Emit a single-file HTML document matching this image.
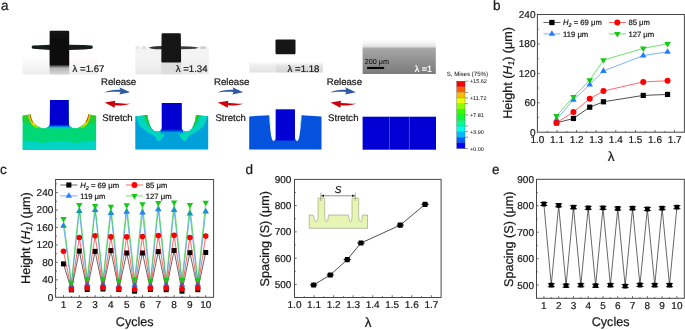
<!DOCTYPE html>
<html><head><meta charset="utf-8"><style>
html,body{margin:0;padding:0;background:#fff;width:685px;height:330px;overflow:hidden}
svg{display:block;font-family:"Liberation Sans", sans-serif;will-change:transform}
text{stroke:#1a1a1a;stroke-width:0.22px;text-rendering:geometricPrecision}
</style></head><body>
<svg width="685" height="330" viewBox="0 0 685 330" font-family='"Liberation Sans", sans-serif' fill="#1a1a1a">
<defs>
<linearGradient id="ph1" x1="0" y1="0" x2="0" y2="1"><stop offset="0" stop-color="#fff"/><stop offset="0.6" stop-color="#fbfbfb"/><stop offset="1" stop-color="#e6e6e6"/></linearGradient>
<linearGradient id="ph4" x1="0" y1="0" x2="0" y2="1"><stop offset="0" stop-color="#fff"/><stop offset="0.12" stop-color="#f5f5f5"/><stop offset="0.23" stop-color="#dedede"/><stop offset="0.255" stop-color="#b0b0b0"/><stop offset="0.3" stop-color="#a4a4a4"/><stop offset="1" stop-color="#7b7b7b"/></linearGradient>
<linearGradient id="pil" x1="0" y1="0" x2="0" y2="1"><stop offset="0" stop-color="#111"/><stop offset="0.75" stop-color="#0a0a0a"/><stop offset="0.85" stop-color="#888"/><stop offset="1" stop-color="#ddd"/></linearGradient>
</defs>

<text x="0.9" y="9.8" font-size="13.5">a</text>
<text x="493" y="9.8" font-size="13.5">b</text>
<text x="0" y="174" font-size="13.5">c</text>
<text x="245.4" y="173.6" font-size="13.5">d</text>
<text x="491.9" y="173.5" font-size="13.5">e</text>
<defs>
<filter id="bl" x="-20%" y="-20%" width="140%" height="140%"><feGaussianBlur stdDeviation="0.45"/></filter>
<filter id="bl2" x="-20%" y="-20%" width="140%" height="140%"><feGaussianBlur stdDeviation="0.8"/></filter>
<linearGradient id="bg1" x1="0" y1="56" x2="0" y2="74.5" gradientUnits="userSpaceOnUse"><stop offset="0" stop-color="#fff"/><stop offset="0.5" stop-color="#f7f7f7"/><stop offset="1" stop-color="#ececec"/></linearGradient>
<linearGradient id="pil1" x1="0" y1="30.8" x2="0" y2="74.5" gradientUnits="userSpaceOnUse"><stop offset="0" stop-color="#121212"/><stop offset="0.77" stop-color="#0e0e0e"/><stop offset="0.85" stop-color="#b4b4b4"/><stop offset="1" stop-color="#d8d8d8"/></linearGradient>
<linearGradient id="bg2" x1="0" y1="48" x2="0" y2="74.3" gradientUnits="userSpaceOnUse"><stop offset="0" stop-color="#f2f2f2"/><stop offset="0.4" stop-color="#f4f4f4"/><stop offset="1" stop-color="#e8e8e8"/></linearGradient>
<linearGradient id="bg3" x1="0" y1="61.5" x2="0" y2="72.5" gradientUnits="userSpaceOnUse"><stop offset="0" stop-color="#fff"/><stop offset="0.35" stop-color="#eeeeee"/><stop offset="1" stop-color="#e2e2e2"/></linearGradient>
<linearGradient id="bg3b" x1="0" y1="61.5" x2="0" y2="72.5" gradientUnits="userSpaceOnUse"><stop offset="0" stop-color="#fff" stop-opacity="0"/><stop offset="0.4" stop-color="#d8d8d8" stop-opacity="0.5"/><stop offset="1" stop-color="#d0d0d0" stop-opacity="0.6"/></linearGradient>
</defs>
<rect x="22.5" y="56" width="75.5" height="18.5" fill="url(#bg1)"/>
<g filter="url(#bl)">
<path d="M33,45.6 L40,45.2 L50,44.7 L69,44.7 L84,45.1 L91.5,45.6 C93.2,45.8 93.2,48.6 91.5,48.8 L84,49.4 L69,49.9 L50,49.9 L40,49.3 L33,48.8 C31.3,48.6 31.3,45.8 33,45.6Z" fill="#141c19"/>
<rect x="49.6" y="30.8" width="19.6" height="43.7" rx="1.2" fill="url(#pil1)"/>
</g>
<text x="72.6" y="72.2" font-size="9.6">λ =1.67</text>
<rect x="135.3" y="48.5" width="73.5" height="25.8" fill="url(#bg2)"/>
<rect x="161" y="62" width="20.5" height="12.3" fill="#dedede"/>
<g filter="url(#bl)">
</g><g filter="url(#bl2)">
<rect x="136" y="47.2" width="3" height="1" fill="#999"/><rect x="142" y="47.2" width="4" height="1.1" fill="#888"/>
<rect x="200" y="47.1" width="6" height="1.2" fill="#777"/>
</g><g filter="url(#bl)">
<path d="M148.5,47.8 Q151,46.4 156,46.2 L162,46.1 L162,49.3 L156,49.3 Q151,49.1 148.5,47.8Z" fill="#333"/>
<path d="M181,46.2 L190,46.4 Q196,46.8 199,47.7 Q196,48.8 190,49.1 L181,49.2Z" fill="#3c3c3c"/>
<path d="M162.6,33.3 L179.7,33.3 Q180.8,33.3 180.8,34.5 L181.1,61.3 Q181.1,62.6 179.8,62.6 L162.5,62.6 Q161.3,62.6 161.3,61.3 L161.6,34.5 Q161.6,33.3 162.6,33.3Z" fill="#121212"/>
</g>
<text x="175.8" y="71.8" font-size="9.6">λ =1.34</text>
<rect x="249.3" y="61.5" width="73.5" height="11" fill="url(#bg3)"/>
<rect x="275.8" y="61.5" width="47" height="11" fill="url(#bg3b)"/>
<g filter="url(#bl)"><rect x="275.5" y="39.4" width="20" height="14.8" rx="1.2" fill="#181818"/></g>
<text x="287.6" y="71.8" font-size="9.6">λ =1.18</text>
<rect x="362.6" y="39" width="73.2" height="35" fill="url(#ph4)"/>
<text x="364.8" y="64" font-size="7.2" fill="#111" style="stroke-width:0.08px;stroke:#111">200 μm</text>
<rect x="367.1" y="66.9" width="17" height="2.1" fill="#000"/>
<text x="414.8" y="71.7" font-size="9" fill="#fff" style="stroke:#fff">λ =1</text>
<text x="101" y="85.1" font-size="9.6">Release</text>
<text x="102.3" y="120.6" font-size="9.6">Stretch</text>
<g transform="translate(0.00,0)"><path d="M104.5,92.4 C109,89.9 115,89.3 120.4,89.8 L119.4,87.2 L130.1,92.2 L119.3,94.4 L120.5,91.9 C115,91.5 109,91.7 104.5,92.4 Z" fill="#2d5aa6"/><path d="M104.7,102.5 L115.4,100.7 L114.8,103.1 C120,103.5 126,103.9 130.4,103.4 C126,105.3 120,105.9 114.9,105.3 L114.6,107.7 Z" fill="#c8000c"/></g>
<text x="214.1" y="85.1" font-size="9.6">Release</text>
<text x="215.4" y="120.6" font-size="9.6">Stretch</text>
<g transform="translate(113.10,0)"><path d="M104.5,92.4 C109,89.9 115,89.3 120.4,89.8 L119.4,87.2 L130.1,92.2 L119.3,94.4 L120.5,91.9 C115,91.5 109,91.7 104.5,92.4 Z" fill="#2d5aa6"/><path d="M104.7,102.5 L115.4,100.7 L114.8,103.1 C120,103.5 126,103.9 130.4,103.4 C126,105.3 120,105.9 114.9,105.3 L114.6,107.7 Z" fill="#c8000c"/></g>
<text x="326.8" y="85.1" font-size="9.6">Release</text>
<text x="328.1" y="120.6" font-size="9.6">Stretch</text>
<g transform="translate(225.80,0)"><path d="M104.5,92.4 C109,89.9 115,89.3 120.4,89.8 L119.4,87.2 L130.1,92.2 L119.3,94.4 L120.5,91.9 C115,91.5 109,91.7 104.5,92.4 Z" fill="#2d5aa6"/><path d="M104.7,102.5 L115.4,100.7 L114.8,103.1 C120,103.5 126,103.9 130.4,103.4 C126,105.3 120,105.9 114.9,105.3 L114.6,107.7 Z" fill="#c8000c"/></g>
<text x="446.7" y="76.4" font-size="6.1" style="stroke-width:0.05px" fill="#222">S, Mises (75%)</text>
<rect x="456.7" y="81.20" width="8.3" height="5.66" fill="#ff0000"/>
<rect x="456.7" y="86.81" width="8.3" height="5.66" fill="#ff5d00"/>
<rect x="456.7" y="92.42" width="8.3" height="5.66" fill="#ffb900"/>
<rect x="456.7" y="98.03" width="8.3" height="5.66" fill="#e8ff00"/>
<rect x="456.7" y="103.63" width="8.3" height="5.66" fill="#8bff00"/>
<rect x="456.7" y="109.24" width="8.3" height="5.66" fill="#2eff00"/>
<rect x="456.7" y="114.85" width="8.3" height="5.66" fill="#00ff2e"/>
<rect x="456.7" y="120.46" width="8.3" height="5.66" fill="#00ff8b"/>
<rect x="456.7" y="126.07" width="8.3" height="5.66" fill="#00ffe8"/>
<rect x="456.7" y="131.68" width="8.3" height="5.66" fill="#00b9ff"/>
<rect x="456.7" y="137.28" width="8.3" height="5.66" fill="#005dff"/>
<rect x="456.7" y="142.89" width="8.3" height="5.66" fill="#0000ff"/>
<line x1="456.7" y1="86.81" x2="465.0" y2="86.81" stroke="#333" stroke-width="0.3" opacity="0.6"/>
<line x1="456.7" y1="92.42" x2="465.0" y2="92.42" stroke="#333" stroke-width="0.3" opacity="0.6"/>
<line x1="456.7" y1="98.03" x2="465.0" y2="98.03" stroke="#333" stroke-width="0.3" opacity="0.6"/>
<line x1="456.7" y1="103.63" x2="465.0" y2="103.63" stroke="#333" stroke-width="0.3" opacity="0.6"/>
<line x1="456.7" y1="109.24" x2="465.0" y2="109.24" stroke="#333" stroke-width="0.3" opacity="0.6"/>
<line x1="456.7" y1="114.85" x2="465.0" y2="114.85" stroke="#333" stroke-width="0.3" opacity="0.6"/>
<line x1="456.7" y1="120.46" x2="465.0" y2="120.46" stroke="#333" stroke-width="0.3" opacity="0.6"/>
<line x1="456.7" y1="126.07" x2="465.0" y2="126.07" stroke="#333" stroke-width="0.3" opacity="0.6"/>
<line x1="456.7" y1="131.68" x2="465.0" y2="131.68" stroke="#333" stroke-width="0.3" opacity="0.6"/>
<line x1="456.7" y1="137.28" x2="465.0" y2="137.28" stroke="#333" stroke-width="0.3" opacity="0.6"/>
<line x1="456.7" y1="142.89" x2="465.0" y2="142.89" stroke="#333" stroke-width="0.3" opacity="0.6"/>
<rect x="456.7" y="81.2" width="8.3" height="67.30" fill="none" stroke="#444" stroke-width="0.3"/>
<text x="469.9" y="83.20" font-size="5.5" style="stroke-width:0.05px" fill="#222">+15.62</text>
<text x="469.9" y="100.03" font-size="5.5" style="stroke-width:0.05px" fill="#222">+11.72</text>
<text x="469.9" y="116.85" font-size="5.5" style="stroke-width:0.05px" fill="#222">+7.81</text>
<text x="469.9" y="133.68" font-size="5.5" style="stroke-width:0.05px" fill="#222">+3.90</text>
<text x="469.9" y="150.50" font-size="5.5" style="stroke-width:0.05px" fill="#222">+0.00</text>
<line x1="465" y1="81.20" x2="468" y2="81.20" stroke="#333" stroke-width="0.5"/>
<line x1="465" y1="86.81" x2="467" y2="86.81" stroke="#bbb" stroke-width="0.5"/>
<line x1="465" y1="92.42" x2="468" y2="92.42" stroke="#333" stroke-width="0.5"/>
<line x1="465" y1="98.03" x2="468" y2="98.03" stroke="#333" stroke-width="0.5"/>
<line x1="465" y1="103.63" x2="468" y2="103.63" stroke="#333" stroke-width="0.5"/>
<line x1="465" y1="109.24" x2="467" y2="109.24" stroke="#bbb" stroke-width="0.5"/>
<line x1="465" y1="114.85" x2="468" y2="114.85" stroke="#333" stroke-width="0.5"/>
<line x1="465" y1="120.46" x2="467" y2="120.46" stroke="#bbb" stroke-width="0.5"/>
<line x1="465" y1="126.07" x2="468" y2="126.07" stroke="#333" stroke-width="0.5"/>
<line x1="465" y1="131.68" x2="468" y2="131.68" stroke="#333" stroke-width="0.5"/>
<line x1="465" y1="137.28" x2="468" y2="137.28" stroke="#333" stroke-width="0.5"/>
<line x1="465" y1="142.89" x2="467" y2="142.89" stroke="#bbb" stroke-width="0.5"/>
<line x1="465" y1="148.50" x2="468" y2="148.50" stroke="#333" stroke-width="0.5"/>
<defs><clipPath id="cl1"><path d="M22.6,115.7 L30.3,114.5 C31,119.5 33.5,124 38,126.6 C40.5,128 42.5,128.4 44.2,128.3 C46.5,128.2 49,127 49.8,124.5 L50,100 L68.70,100.00 L68.90,124.50 C69.70,127.00 72.20,128.20 74.50,128.30 C76.20,128.40 78.20,128.00 80.70,126.60 C85.20,124.00 87.70,119.50 88.40,114.50 L96.10,115.70 L96.10,149.80 L22.60,149.80 Z"/></clipPath>
<linearGradient id="pb1" x1="0" y1="124.3" x2="0" y2="129" gradientUnits="userSpaceOnUse"><stop offset="0" stop-color="#0000d0"/><stop offset="0.3" stop-color="#0048e0"/><stop offset="0.55" stop-color="#00a0e0"/><stop offset="0.8" stop-color="#00d0b4"/><stop offset="1" stop-color="#00d777"/></linearGradient>
<linearGradient id="gw1" x1="0" y1="114" x2="0" y2="127" gradientUnits="userSpaceOnUse"><stop offset="0" stop-color="#30cc1c"/><stop offset="0.6" stop-color="#18d040"/><stop offset="1" stop-color="#00d777"/></linearGradient>
</defs>
<g clip-path="url(#cl1)">
<rect x="20" y="98" width="80" height="55" fill="#00d777"/>
<path d="M22.6,140.6 C30,140.8 37,142.3 44,143 C49,141.6 54,141.1 59.35,141.1 C64.7,141.1 69.7,141.6 74.7,143 C81.7,142.3 88.7,140.8 96.1,140.6 L96.1,150 L22.6,150 Z" fill="#00d4c4"/>
<path d="M20,114 L31,114 C32,119 34,123 38,126.6 C31,125.5 25,123 20,121 Z" fill="url(#gw1)"/>
<path d="M98.7,114 L87.7,114 C86.7,119 84.7,123 80.7,126.6 C87.7,125.5 93.7,123 98.7,121 Z" fill="url(#gw1)"/>
<path d="M42.5,129 L45.8,129 L44.2,131.3Z M72.9,129 L76.2,129 L74.5,131.3Z" fill="#10c850"/>
<g fill="none" stroke-linecap="round">
<path d="M30.3,114.5 C31,119.5 32.8,123 36.5,125.8" stroke="#86e000" stroke-width="5.0"/>
<path d="M 88.40 114.50 C 87.70 119.50 85.90 123.00 82.20 125.80" stroke="#86e000" stroke-width="5.0"/>
<path d="M30.3,114.5 C31,119 32,121.8 34,124" stroke="#d8ee00" stroke-width="3.0"/>
<path d="M 88.40 114.50 C 87.70 119.00 86.70 121.80 84.70 124.00" stroke="#d8ee00" stroke-width="3.0"/>
<path d="M30.3,114.5 C30.8,117.5 31.6,120 33,122.2" stroke="#ff9000" stroke-width="2.0"/>
<path d="M 88.40 114.50 C 87.90 117.50 87.10 120.00 85.70 122.20" stroke="#ff9000" stroke-width="2.0"/>
<path d="M30.3,114.5 C30.7,117 31.2,119 32.2,121" stroke="#d81808" stroke-width="1.1"/>
<path d="M 88.40 114.50 C 88.00 117.00 87.50 119.00 86.50 121.00" stroke="#d81808" stroke-width="1.1"/>
</g>
<rect x="45" y="100" width="28.7" height="30" fill="url(#pb1)"/>
</g>
<defs><clipPath id="cl2"><path d="M135.3,116.2 L147.6,114.9 C148.1,120 149.3,124.5 151.3,128 C153,130.5 155.2,131.4 157.4,131.4 C159.4,131.4 161.3,130.5 161.8,128.5 L161.8,102.9 L181.70,102.90 L181.70,128.50 C182.20,130.50 184.10,131.40 186.10,131.40 C188.30,131.40 190.50,130.50 192.20,128.00 C194.20,124.50 195.40,120.00 195.90,114.90 L208.20,116.20 L208.20,149.60 L135.30,149.60 Z"/></clipPath>
<linearGradient id="pb2" x1="0" y1="129" x2="0" y2="132.5" gradientUnits="userSpaceOnUse"><stop offset="0" stop-color="#0000d0"/><stop offset="0.45" stop-color="#0040d8"/><stop offset="1" stop-color="#00a0da"/></linearGradient>
</defs>
<g clip-path="url(#cl2)">
<rect x="133" y="100" width="78" height="52" fill="#00a0da"/>
<path d="M136.3,116.2 L147.6,114.9 C148.1,120 149.3,124.5 151.3,128 C153,130.5 155.2,131.4 157.4,131.4 L161.5,130 L164.6,132.5 L163.6,136.5 L159.8,141.2 L157,140.6 L154.6,136 C149.5,133.5 143.5,130 139.6,125.5 C137.8,122.5 136.7,119.5 136.3,116.2 Z" fill="#00d6be"/>
<path d="M 207.20 116.20 L 195.90 114.90 C 195.40 120.00 194.20 124.50 192.20 128.00 C 190.50 130.50 188.30 131.40 186.10 131.40 L 182.00 130.00 L 178.90 132.50 L 179.90 136.50 L 183.70 141.20 L 186.50 140.60 L 188.90 136.00 C 194.00 133.50 200.00 130.00 203.90 125.50 C 205.70 122.50 206.80 119.50 207.20 116.20 Z" fill="#00d6be"/>
<path d="M142.3,115.4 L147.6,114.9 C148.1,120 149.3,124.5 151.3,128 L150.3,128.5 C147,125 144,121 142.3,115.4 Z" fill="#00d690"/><path d="M 201.20 115.40 L 195.90 114.90 C 195.40 120.00 194.20 124.50 192.20 128.00 L 193.20 128.50 C 196.50 125.00 199.50 121.00 201.20 115.40 Z" fill="#00d690"/>
<path d="M144.4,115.2 L147.6,114.9 C148.1,120 149.3,124.5 151.3,128 L150.7,128.2 C148.2,125 146,120.5 144.4,115.2 Z" fill="#12c62a"/><path d="M 199.10 115.20 L 195.90 114.90 C 195.40 120.00 194.20 124.50 192.20 128.00 L 192.80 128.20 C 195.30 125.00 197.50 120.50 199.10 115.20 Z" fill="#12c62a"/>
<path d="M146.6,115 L147.6,114.9 C148,118 148.4,120 149,122 L148.5,122 C147.6,119.5 147,117.5 146.6,115 Z" fill="#7cd800"/><path d="M 196.90 115.00 L 195.90 114.90 C 195.50 118.00 195.10 120.00 194.50 122.00 L 195.00 122.00 C 195.90 119.50 196.50 117.50 196.90 115.00 Z" fill="#7cd800"/>
<rect x="160.5" y="102.9" width="22.5" height="31" fill="url(#pb2)"/>
</g>
<path d="M249.2,116.4 L269.1,115.2 C269.6,122 270.4,132 271.6,137.8 C272.2,140.2 272.9,140.9 273.6,140.9 C274.6,140.9 275.4,139.8 275.7,137.8 L275.8,109.4 L294.90,109.40 L295.00,137.80 C295.30,139.80 296.10,140.90 297.10,140.90 C297.80,140.90 298.50,140.20 299.10,137.80 C300.30,132.00 301.10,122.00 301.60,115.20 L321.50,116.40 L321.50,149.50 L249.20,149.50 Z" fill="#0552dc"/>
<path d="M275.8,109.4 L294.9,109.4 L294.9,138 C294.9,139.5 294.5,140.2 294,140.6 L276.6,140.6 C276.1,140.2 275.8,139.5 275.8,138 Z" fill="#0000d2"/>
<path d="M269.1,115.2 C269.4,119 269.7,122 270.1,125" stroke="#20c8e0" stroke-width="0.7" fill="none"/>
<path d="M 301.60 115.20 C 301.30 119.00 301.00 122.00 300.60 125.00" stroke="#20c8e0" stroke-width="0.7" fill="none"/>
<g>
<rect x="362.6" y="116.7" width="73.4" height="33" fill="#0000d4"/>
<line x1="389.5" y1="116.7" x2="389.5" y2="149.7" stroke="#9a9ab0" stroke-width="0.5"/>
<line x1="409.4" y1="116.7" x2="409.4" y2="149.7" stroke="#9a9ab0" stroke-width="0.5"/>
</g>
<rect x="537.4" y="14.5" width="147.00" height="117.70" fill="none" stroke="#474747" stroke-width="1.0"/>
<line x1="547.20" y1="132.2" x2="547.20" y2="130.89999999999998" stroke="#474747" stroke-width="0.8"/>
<line x1="557.00" y1="132.2" x2="557.00" y2="130.0" stroke="#474747" stroke-width="0.8"/>
<line x1="566.80" y1="132.2" x2="566.80" y2="130.89999999999998" stroke="#474747" stroke-width="0.8"/>
<line x1="576.60" y1="132.2" x2="576.60" y2="130.0" stroke="#474747" stroke-width="0.8"/>
<line x1="586.40" y1="132.2" x2="586.40" y2="130.89999999999998" stroke="#474747" stroke-width="0.8"/>
<line x1="596.20" y1="132.2" x2="596.20" y2="130.0" stroke="#474747" stroke-width="0.8"/>
<line x1="606.00" y1="132.2" x2="606.00" y2="130.89999999999998" stroke="#474747" stroke-width="0.8"/>
<line x1="615.80" y1="132.2" x2="615.80" y2="130.0" stroke="#474747" stroke-width="0.8"/>
<line x1="625.60" y1="132.2" x2="625.60" y2="130.89999999999998" stroke="#474747" stroke-width="0.8"/>
<line x1="635.40" y1="132.2" x2="635.40" y2="130.0" stroke="#474747" stroke-width="0.8"/>
<line x1="645.20" y1="132.2" x2="645.20" y2="130.89999999999998" stroke="#474747" stroke-width="0.8"/>
<line x1="655.00" y1="132.2" x2="655.00" y2="130.0" stroke="#474747" stroke-width="0.8"/>
<line x1="664.80" y1="132.2" x2="664.80" y2="130.89999999999998" stroke="#474747" stroke-width="0.8"/>
<line x1="674.60" y1="132.2" x2="674.60" y2="130.0" stroke="#474747" stroke-width="0.8"/>
<line x1="537.4" y1="117.49" x2="538.6999999999999" y2="117.49" stroke="#474747" stroke-width="0.8"/>
<line x1="537.4" y1="102.77" x2="539.6" y2="102.77" stroke="#474747" stroke-width="0.8"/>
<line x1="537.4" y1="88.06" x2="538.6999999999999" y2="88.06" stroke="#474747" stroke-width="0.8"/>
<line x1="537.4" y1="73.35" x2="539.6" y2="73.35" stroke="#474747" stroke-width="0.8"/>
<line x1="537.4" y1="58.64" x2="538.6999999999999" y2="58.64" stroke="#474747" stroke-width="0.8"/>
<line x1="537.4" y1="43.92" x2="539.6" y2="43.92" stroke="#474747" stroke-width="0.8"/>
<line x1="537.4" y1="29.21" x2="538.6999999999999" y2="29.21" stroke="#474747" stroke-width="0.8"/>
<text x="537.40" y="143.00" text-anchor="middle" font-size="10">1.0</text>
<text x="557.00" y="143.00" text-anchor="middle" font-size="10">1.1</text>
<text x="576.60" y="143.00" text-anchor="middle" font-size="10">1.2</text>
<text x="596.20" y="143.00" text-anchor="middle" font-size="10">1.3</text>
<text x="615.80" y="143.00" text-anchor="middle" font-size="10">1.4</text>
<text x="635.40" y="143.00" text-anchor="middle" font-size="10">1.5</text>
<text x="655.00" y="143.00" text-anchor="middle" font-size="10">1.6</text>
<text x="674.60" y="143.00" text-anchor="middle" font-size="10">1.7</text>
<text x="535.50" y="135.65" text-anchor="end" font-size="10">0</text>
<text x="535.50" y="106.22" text-anchor="end" font-size="10">60</text>
<text x="535.50" y="76.80" text-anchor="end" font-size="10">120</text>
<text x="535.50" y="47.38" text-anchor="end" font-size="10">180</text>
<text x="535.50" y="17.95" text-anchor="end" font-size="10">240</text>
<path d="M556.51,122.88 L573.46,118.47 L589.73,107.19 L603.45,101.79 L643.24,95.42 L667.54,94.44" fill="none" stroke="#000000" stroke-width="0.7"/>
<rect x="553.91" y="120.28" width="5.2" height="5.2" fill="#000000"/>
<rect x="570.86" y="115.87" width="5.2" height="5.2" fill="#000000"/>
<rect x="587.13" y="104.59" width="5.2" height="5.2" fill="#000000"/>
<rect x="600.85" y="99.19" width="5.2" height="5.2" fill="#000000"/>
<rect x="640.64" y="92.82" width="5.2" height="5.2" fill="#000000"/>
<rect x="664.94" y="91.84" width="5.2" height="5.2" fill="#000000"/>
<path d="M556.51,119.45 L573.46,99.83 L589.73,84.63 L603.45,71.00 L643.24,55.55 L667.54,51.82" fill="none" stroke="#1e7fff" stroke-width="0.6"/>
<path d="M556.51,115.77 L559.76,121.40 L553.26,121.40Z" fill="#1e7fff"/>
<path d="M573.46,96.15 L576.71,101.78 L570.21,101.78Z" fill="#1e7fff"/>
<path d="M589.73,80.95 L592.98,86.58 L586.48,86.58Z" fill="#1e7fff"/>
<path d="M603.45,67.31 L606.70,72.95 L600.20,72.95Z" fill="#1e7fff"/>
<path d="M643.24,51.86 L646.49,57.50 L639.99,57.50Z" fill="#1e7fff"/>
<path d="M667.54,48.14 L670.79,53.77 L664.29,53.77Z" fill="#1e7fff"/>
<path d="M556.51,122.73 L573.46,112.09 L589.73,98.85 L603.45,91.00 L643.24,81.93 L667.54,80.76" fill="none" stroke="#ff0000" stroke-width="0.6"/>
<circle cx="556.51" cy="122.73" r="3.00" fill="#ff0000"/>
<circle cx="573.46" cy="112.09" r="3.00" fill="#ff0000"/>
<circle cx="589.73" cy="98.85" r="3.00" fill="#ff0000"/>
<circle cx="603.45" cy="91.00" r="3.00" fill="#ff0000"/>
<circle cx="643.24" cy="81.93" r="3.00" fill="#ff0000"/>
<circle cx="667.54" cy="80.76" r="3.00" fill="#ff0000"/>
<path d="M556.51,116.02 L573.46,96.89 L589.73,80.22 L603.45,60.11 L643.24,48.34 L667.54,43.92" fill="none" stroke="#14c814" stroke-width="0.6"/>
<path d="M556.51,119.70 L559.76,114.07 L553.26,114.07Z" fill="#14c814"/>
<path d="M573.46,100.57 L576.71,94.94 L570.21,94.94Z" fill="#14c814"/>
<path d="M589.73,83.90 L592.98,78.27 L586.48,78.27Z" fill="#14c814"/>
<path d="M603.45,63.79 L606.70,58.16 L600.20,58.16Z" fill="#14c814"/>
<path d="M643.24,52.02 L646.49,46.39 L639.99,46.39Z" fill="#14c814"/>
<path d="M667.54,47.61 L670.79,41.97 L664.29,41.97Z" fill="#14c814"/>
<line x1="543.4" y1="22.5" x2="560.4" y2="22.5" stroke="#000000" stroke-width="0.6"/>
<rect x="549.26" y="19.86" width="5.28" height="5.28" fill="#000000"/>
<text x="563.0" y="25.3" font-size="7.7"><tspan font-style="italic">H</tspan><tspan font-size="5.4" dy="1.8" font-style="italic">2</tspan><tspan dy="-1.8"> = 69 μm</tspan></text>
<line x1="608.8" y1="22.5" x2="625.8" y2="22.5" stroke="#ff0000" stroke-width="0.6"/>
<circle cx="617.30" cy="22.50" r="3.00" fill="#ff0000"/>
<text x="628.4" y="25.3" font-size="7.7">85 μm</text>
<line x1="543.4" y1="33.9" x2="560.4" y2="33.9" stroke="#1e7fff" stroke-width="0.6"/>
<path d="M551.90,30.23 L555.14,35.84 L548.66,35.84Z" fill="#1e7fff"/>
<text x="563.0" y="36.699999999999996" font-size="7.7">119 μm</text>
<line x1="608.8" y1="33.9" x2="625.8" y2="33.9" stroke="#14c814" stroke-width="0.6"/>
<path d="M617.30,37.57 L620.54,31.96 L614.06,31.96Z" fill="#14c814"/>
<text x="628.4" y="36.699999999999996" font-size="7.7">127 μm</text>
<text transform="translate(511.8,72.9) rotate(-90)" text-anchor="middle" font-size="12.6">Height (<tspan font-style="italic">H</tspan><tspan font-style="italic" font-size="8.4" dy="2.2">1</tspan><tspan dy="-2.2">) (μm)</tspan></text>
<text x="611.1" y="160.8" text-anchor="middle" font-size="13.5">λ</text>
<rect x="55.6" y="179.5" width="158.00" height="117.80" fill="none" stroke="#474747" stroke-width="1.0"/>
<line x1="63.50" y1="297.3" x2="63.50" y2="295.1" stroke="#474747" stroke-width="0.8"/>
<line x1="71.40" y1="297.3" x2="71.40" y2="296.0" stroke="#474747" stroke-width="0.8"/>
<line x1="79.30" y1="297.3" x2="79.30" y2="295.1" stroke="#474747" stroke-width="0.8"/>
<line x1="87.20" y1="297.3" x2="87.20" y2="296.0" stroke="#474747" stroke-width="0.8"/>
<line x1="95.10" y1="297.3" x2="95.10" y2="295.1" stroke="#474747" stroke-width="0.8"/>
<line x1="103.00" y1="297.3" x2="103.00" y2="296.0" stroke="#474747" stroke-width="0.8"/>
<line x1="110.90" y1="297.3" x2="110.90" y2="295.1" stroke="#474747" stroke-width="0.8"/>
<line x1="118.80" y1="297.3" x2="118.80" y2="296.0" stroke="#474747" stroke-width="0.8"/>
<line x1="126.70" y1="297.3" x2="126.70" y2="295.1" stroke="#474747" stroke-width="0.8"/>
<line x1="134.60" y1="297.3" x2="134.60" y2="296.0" stroke="#474747" stroke-width="0.8"/>
<line x1="142.50" y1="297.3" x2="142.50" y2="295.1" stroke="#474747" stroke-width="0.8"/>
<line x1="150.40" y1="297.3" x2="150.40" y2="296.0" stroke="#474747" stroke-width="0.8"/>
<line x1="158.30" y1="297.3" x2="158.30" y2="295.1" stroke="#474747" stroke-width="0.8"/>
<line x1="166.20" y1="297.3" x2="166.20" y2="296.0" stroke="#474747" stroke-width="0.8"/>
<line x1="174.10" y1="297.3" x2="174.10" y2="295.1" stroke="#474747" stroke-width="0.8"/>
<line x1="182.00" y1="297.3" x2="182.00" y2="296.0" stroke="#474747" stroke-width="0.8"/>
<line x1="189.90" y1="297.3" x2="189.90" y2="295.1" stroke="#474747" stroke-width="0.8"/>
<line x1="197.80" y1="297.3" x2="197.80" y2="296.0" stroke="#474747" stroke-width="0.8"/>
<line x1="205.70" y1="297.3" x2="205.70" y2="295.1" stroke="#474747" stroke-width="0.8"/>
<line x1="55.6" y1="288.57" x2="56.9" y2="288.57" stroke="#474747" stroke-width="0.8"/>
<line x1="55.6" y1="279.85" x2="57.800000000000004" y2="279.85" stroke="#474747" stroke-width="0.8"/>
<line x1="55.6" y1="271.12" x2="56.9" y2="271.12" stroke="#474747" stroke-width="0.8"/>
<line x1="55.6" y1="262.40" x2="57.800000000000004" y2="262.40" stroke="#474747" stroke-width="0.8"/>
<line x1="55.6" y1="253.67" x2="56.9" y2="253.67" stroke="#474747" stroke-width="0.8"/>
<line x1="55.6" y1="244.94" x2="57.800000000000004" y2="244.94" stroke="#474747" stroke-width="0.8"/>
<line x1="55.6" y1="236.22" x2="56.9" y2="236.22" stroke="#474747" stroke-width="0.8"/>
<line x1="55.6" y1="227.49" x2="57.800000000000004" y2="227.49" stroke="#474747" stroke-width="0.8"/>
<line x1="55.6" y1="218.77" x2="56.9" y2="218.77" stroke="#474747" stroke-width="0.8"/>
<line x1="55.6" y1="210.04" x2="57.800000000000004" y2="210.04" stroke="#474747" stroke-width="0.8"/>
<line x1="55.6" y1="201.31" x2="56.9" y2="201.31" stroke="#474747" stroke-width="0.8"/>
<line x1="55.6" y1="192.59" x2="57.800000000000004" y2="192.59" stroke="#474747" stroke-width="0.8"/>
<line x1="55.6" y1="183.86" x2="56.9" y2="183.86" stroke="#474747" stroke-width="0.8"/>
<text x="63.50" y="308.10" text-anchor="middle" font-size="10">1</text>
<text x="79.30" y="308.10" text-anchor="middle" font-size="10">2</text>
<text x="95.10" y="308.10" text-anchor="middle" font-size="10">3</text>
<text x="110.90" y="308.10" text-anchor="middle" font-size="10">4</text>
<text x="126.70" y="308.10" text-anchor="middle" font-size="10">5</text>
<text x="142.50" y="308.10" text-anchor="middle" font-size="10">6</text>
<text x="158.30" y="308.10" text-anchor="middle" font-size="10">7</text>
<text x="174.10" y="308.10" text-anchor="middle" font-size="10">8</text>
<text x="189.90" y="308.10" text-anchor="middle" font-size="10">9</text>
<text x="205.70" y="308.10" text-anchor="middle" font-size="10">10</text>
<text x="53.30" y="300.75" text-anchor="end" font-size="10">0</text>
<text x="53.30" y="283.30" text-anchor="end" font-size="10">40</text>
<text x="53.30" y="265.85" text-anchor="end" font-size="10">80</text>
<text x="53.30" y="248.39" text-anchor="end" font-size="10">120</text>
<text x="53.30" y="230.94" text-anchor="end" font-size="10">160</text>
<text x="53.30" y="213.49" text-anchor="end" font-size="10">200</text>
<text x="53.30" y="196.04" text-anchor="end" font-size="10">240</text>
<path d="M63.50,263.88 L71.40,289.88 L79.30,251.05 L87.20,289.45 L95.10,251.36 L103.00,289.01 L110.90,250.57 L118.80,289.45 L126.70,252.97 L134.60,291.19 L142.50,252.97 L150.40,289.45 L158.30,251.58 L166.20,289.71 L174.10,250.49 L182.00,291.19 L189.90,252.67 L197.80,289.71 L205.70,252.45" fill="none" stroke="#000000" stroke-width="0.6"/>
<rect x="61.00" y="261.38" width="5.0" height="5.0" fill="#000000"/>
<rect x="68.90" y="287.38" width="5.0" height="5.0" fill="#000000"/>
<rect x="76.80" y="248.55" width="5.0" height="5.0" fill="#000000"/>
<rect x="84.70" y="286.95" width="5.0" height="5.0" fill="#000000"/>
<rect x="92.60" y="248.86" width="5.0" height="5.0" fill="#000000"/>
<rect x="100.50" y="286.51" width="5.0" height="5.0" fill="#000000"/>
<rect x="108.40" y="248.07" width="5.0" height="5.0" fill="#000000"/>
<rect x="116.30" y="286.95" width="5.0" height="5.0" fill="#000000"/>
<rect x="124.20" y="250.47" width="5.0" height="5.0" fill="#000000"/>
<rect x="132.10" y="288.69" width="5.0" height="5.0" fill="#000000"/>
<rect x="140.00" y="250.47" width="5.0" height="5.0" fill="#000000"/>
<rect x="147.90" y="286.95" width="5.0" height="5.0" fill="#000000"/>
<rect x="155.80" y="249.08" width="5.0" height="5.0" fill="#000000"/>
<rect x="163.70" y="287.21" width="5.0" height="5.0" fill="#000000"/>
<rect x="171.60" y="247.99" width="5.0" height="5.0" fill="#000000"/>
<rect x="179.50" y="288.69" width="5.0" height="5.0" fill="#000000"/>
<rect x="187.40" y="250.17" width="5.0" height="5.0" fill="#000000"/>
<rect x="195.30" y="287.21" width="5.0" height="5.0" fill="#000000"/>
<rect x="203.20" y="249.95" width="5.0" height="5.0" fill="#000000"/>
<path d="M63.50,225.83 L71.40,285.61 L79.30,211.04 L87.20,284.21 L95.10,209.95 L103.00,284.21 L110.90,212.96 L118.80,285.69 L126.70,211.74 L134.60,285.17 L142.50,212.44 L150.40,285.39 L158.30,209.34 L166.20,284.65 L174.10,209.95 L182.00,284.65 L189.90,213.53 L197.80,284.39 L205.70,211.44" fill="none" stroke="#1e7fff" stroke-width="0.6"/>
<path d="M63.50,222.09 L66.80,227.81 L60.20,227.81Z" fill="#1e7fff"/>
<path d="M71.40,281.87 L74.70,287.59 L68.10,287.59Z" fill="#1e7fff"/>
<path d="M79.30,207.30 L82.60,213.02 L76.00,213.02Z" fill="#1e7fff"/>
<path d="M87.20,280.47 L90.50,286.19 L83.90,286.19Z" fill="#1e7fff"/>
<path d="M95.10,206.21 L98.40,211.93 L91.80,211.93Z" fill="#1e7fff"/>
<path d="M103.00,280.47 L106.30,286.19 L99.70,286.19Z" fill="#1e7fff"/>
<path d="M110.90,209.22 L114.20,214.94 L107.60,214.94Z" fill="#1e7fff"/>
<path d="M118.80,281.95 L122.10,287.67 L115.50,287.67Z" fill="#1e7fff"/>
<path d="M126.70,208.00 L130.00,213.72 L123.40,213.72Z" fill="#1e7fff"/>
<path d="M134.60,281.43 L137.90,287.15 L131.30,287.15Z" fill="#1e7fff"/>
<path d="M142.50,208.70 L145.80,214.42 L139.20,214.42Z" fill="#1e7fff"/>
<path d="M150.40,281.65 L153.70,287.37 L147.10,287.37Z" fill="#1e7fff"/>
<path d="M158.30,205.60 L161.60,211.32 L155.00,211.32Z" fill="#1e7fff"/>
<path d="M166.20,280.91 L169.50,286.63 L162.90,286.63Z" fill="#1e7fff"/>
<path d="M174.10,206.21 L177.40,211.93 L170.80,211.93Z" fill="#1e7fff"/>
<path d="M182.00,280.91 L185.30,286.63 L178.70,286.63Z" fill="#1e7fff"/>
<path d="M189.90,209.79 L193.20,215.51 L186.60,215.51Z" fill="#1e7fff"/>
<path d="M197.80,280.65 L201.10,286.37 L194.50,286.37Z" fill="#1e7fff"/>
<path d="M205.70,207.70 L209.00,213.42 L202.40,213.42Z" fill="#1e7fff"/>
<path d="M63.50,251.36 L71.40,289.32 L79.30,237.44 L87.20,287.70 L95.10,235.78 L103.00,287.48 L110.90,236.87 L118.80,288.57 L126.70,236.87 L134.60,289.32 L142.50,236.57 L150.40,288.40 L158.30,235.48 L166.20,288.01 L174.10,235.26 L182.00,288.79 L189.90,237.44 L197.80,288.01 L205.70,236.04" fill="none" stroke="#ff0000" stroke-width="0.6"/>
<circle cx="63.50" cy="251.36" r="2.80" fill="#ff0000"/>
<circle cx="71.40" cy="289.32" r="2.80" fill="#ff0000"/>
<circle cx="79.30" cy="237.44" r="2.80" fill="#ff0000"/>
<circle cx="87.20" cy="287.70" r="2.80" fill="#ff0000"/>
<circle cx="95.10" cy="235.78" r="2.80" fill="#ff0000"/>
<circle cx="103.00" cy="287.48" r="2.80" fill="#ff0000"/>
<circle cx="110.90" cy="236.87" r="2.80" fill="#ff0000"/>
<circle cx="118.80" cy="288.57" r="2.80" fill="#ff0000"/>
<circle cx="126.70" cy="236.87" r="2.80" fill="#ff0000"/>
<circle cx="134.60" cy="289.32" r="2.80" fill="#ff0000"/>
<circle cx="142.50" cy="236.57" r="2.80" fill="#ff0000"/>
<circle cx="150.40" cy="288.40" r="2.80" fill="#ff0000"/>
<circle cx="158.30" cy="235.48" r="2.80" fill="#ff0000"/>
<circle cx="166.20" cy="288.01" r="2.80" fill="#ff0000"/>
<circle cx="174.10" cy="235.26" r="2.80" fill="#ff0000"/>
<circle cx="182.00" cy="288.79" r="2.80" fill="#ff0000"/>
<circle cx="189.90" cy="237.44" r="2.80" fill="#ff0000"/>
<circle cx="197.80" cy="288.01" r="2.80" fill="#ff0000"/>
<circle cx="205.70" cy="236.04" r="2.80" fill="#ff0000"/>
<path d="M63.50,218.90 L71.40,282.77 L79.30,204.89 L87.20,279.15 L95.10,205.98 L103.00,279.15 L110.90,206.68 L118.80,280.94 L126.70,205.11 L134.60,279.46 L142.50,204.19 L150.40,280.55 L158.30,202.80 L166.20,279.85 L174.10,202.32 L182.00,279.85 L189.90,204.98 L197.80,279.85 L205.70,202.71" fill="none" stroke="#14c814" stroke-width="0.6"/>
<path d="M63.50,222.52 L66.70,216.98 L60.30,216.98Z" fill="#14c814"/>
<path d="M71.40,286.40 L74.60,280.85 L68.20,280.85Z" fill="#14c814"/>
<path d="M79.30,208.52 L82.50,202.97 L76.10,202.97Z" fill="#14c814"/>
<path d="M87.20,282.78 L90.40,277.23 L84.00,277.23Z" fill="#14c814"/>
<path d="M95.10,209.61 L98.30,204.06 L91.90,204.06Z" fill="#14c814"/>
<path d="M103.00,282.78 L106.20,277.23 L99.80,277.23Z" fill="#14c814"/>
<path d="M110.90,210.31 L114.10,204.76 L107.70,204.76Z" fill="#14c814"/>
<path d="M118.80,284.57 L122.00,279.02 L115.60,279.02Z" fill="#14c814"/>
<path d="M126.70,208.74 L129.90,203.19 L123.50,203.19Z" fill="#14c814"/>
<path d="M134.60,283.08 L137.80,277.54 L131.40,277.54Z" fill="#14c814"/>
<path d="M142.50,207.82 L145.70,202.27 L139.30,202.27Z" fill="#14c814"/>
<path d="M150.40,284.17 L153.60,278.63 L147.20,278.63Z" fill="#14c814"/>
<path d="M158.30,206.42 L161.50,200.88 L155.10,200.88Z" fill="#14c814"/>
<path d="M166.20,283.47 L169.40,277.93 L163.00,277.93Z" fill="#14c814"/>
<path d="M174.10,205.94 L177.30,200.40 L170.90,200.40Z" fill="#14c814"/>
<path d="M182.00,283.47 L185.20,277.93 L178.80,277.93Z" fill="#14c814"/>
<path d="M189.90,208.61 L193.10,203.06 L186.70,203.06Z" fill="#14c814"/>
<path d="M197.80,283.47 L201.00,277.93 L194.60,277.93Z" fill="#14c814"/>
<path d="M205.70,206.34 L208.90,200.79 L202.50,200.79Z" fill="#14c814"/>
<line x1="60.3" y1="185" x2="77.4" y2="185" stroke="#000000" stroke-width="0.6"/>
<rect x="66.30" y="182.45" width="5.104" height="5.104" fill="#000000"/>
<text x="80.2" y="187.8" font-size="7.7"><tspan font-style="italic">H</tspan><tspan font-size="5.4" dy="1.8" font-style="italic">2</tspan><tspan dy="-1.8"> = 69 μm</tspan></text>
<line x1="125.9" y1="185" x2="143.0" y2="185" stroke="#ff0000" stroke-width="0.6"/>
<circle cx="134.45" cy="185.00" r="2.90" fill="#ff0000"/>
<text x="145.8" y="187.8" font-size="7.7">85 μm</text>
<line x1="60.3" y1="195.9" x2="77.4" y2="195.9" stroke="#1e7fff" stroke-width="0.6"/>
<path d="M68.85,192.35 L71.98,197.78 L65.72,197.78Z" fill="#1e7fff"/>
<text x="80.2" y="198.70000000000002" font-size="7.7">119 μm</text>
<line x1="125.9" y1="195.9" x2="143.0" y2="195.9" stroke="#14c814" stroke-width="0.6"/>
<path d="M134.45,199.45 L137.58,194.02 L131.32,194.02Z" fill="#14c814"/>
<text x="145.8" y="198.70000000000002" font-size="7.7">127 μm</text>
<text transform="translate(30,238.1) rotate(-90)" text-anchor="middle" font-size="12.6">Height (<tspan font-style="italic">H</tspan><tspan font-style="italic" font-size="8.4" dy="2.2">1</tspan><tspan dy="-2.2">) (μm)</tspan></text>
<text x="134.7" y="326" text-anchor="middle" font-size="12.6">Cycles</text>
<rect x="294.5" y="179.4" width="146.60" height="118.10" fill="none" stroke="#474747" stroke-width="1.0"/>
<line x1="304.27" y1="297.5" x2="304.27" y2="296.2" stroke="#474747" stroke-width="0.8"/>
<line x1="314.05" y1="297.5" x2="314.05" y2="295.3" stroke="#474747" stroke-width="0.8"/>
<line x1="323.82" y1="297.5" x2="323.82" y2="296.2" stroke="#474747" stroke-width="0.8"/>
<line x1="333.59" y1="297.5" x2="333.59" y2="295.3" stroke="#474747" stroke-width="0.8"/>
<line x1="343.37" y1="297.5" x2="343.37" y2="296.2" stroke="#474747" stroke-width="0.8"/>
<line x1="353.14" y1="297.5" x2="353.14" y2="295.3" stroke="#474747" stroke-width="0.8"/>
<line x1="362.91" y1="297.5" x2="362.91" y2="296.2" stroke="#474747" stroke-width="0.8"/>
<line x1="372.69" y1="297.5" x2="372.69" y2="295.3" stroke="#474747" stroke-width="0.8"/>
<line x1="382.46" y1="297.5" x2="382.46" y2="296.2" stroke="#474747" stroke-width="0.8"/>
<line x1="392.23" y1="297.5" x2="392.23" y2="295.3" stroke="#474747" stroke-width="0.8"/>
<line x1="402.01" y1="297.5" x2="402.01" y2="296.2" stroke="#474747" stroke-width="0.8"/>
<line x1="411.78" y1="297.5" x2="411.78" y2="295.3" stroke="#474747" stroke-width="0.8"/>
<line x1="421.55" y1="297.5" x2="421.55" y2="296.2" stroke="#474747" stroke-width="0.8"/>
<line x1="431.33" y1="297.5" x2="431.33" y2="295.3" stroke="#474747" stroke-width="0.8"/>
<line x1="294.5" y1="284.38" x2="296.7" y2="284.38" stroke="#474747" stroke-width="0.8"/>
<line x1="294.5" y1="271.26" x2="295.8" y2="271.26" stroke="#474747" stroke-width="0.8"/>
<line x1="294.5" y1="258.13" x2="296.7" y2="258.13" stroke="#474747" stroke-width="0.8"/>
<line x1="294.5" y1="245.01" x2="295.8" y2="245.01" stroke="#474747" stroke-width="0.8"/>
<line x1="294.5" y1="231.89" x2="296.7" y2="231.89" stroke="#474747" stroke-width="0.8"/>
<line x1="294.5" y1="218.77" x2="295.8" y2="218.77" stroke="#474747" stroke-width="0.8"/>
<line x1="294.5" y1="205.64" x2="296.7" y2="205.64" stroke="#474747" stroke-width="0.8"/>
<line x1="294.5" y1="192.52" x2="295.8" y2="192.52" stroke="#474747" stroke-width="0.8"/>
<text x="294.50" y="308.30" text-anchor="middle" font-size="10">1.0</text>
<text x="314.05" y="308.30" text-anchor="middle" font-size="10">1.1</text>
<text x="333.59" y="308.30" text-anchor="middle" font-size="10">1.2</text>
<text x="353.14" y="308.30" text-anchor="middle" font-size="10">1.3</text>
<text x="372.69" y="308.30" text-anchor="middle" font-size="10">1.4</text>
<text x="392.23" y="308.30" text-anchor="middle" font-size="10">1.5</text>
<text x="411.78" y="308.30" text-anchor="middle" font-size="10">1.6</text>
<text x="431.33" y="308.30" text-anchor="middle" font-size="10">1.7</text>
<text x="291.40" y="287.83" text-anchor="end" font-size="10">500</text>
<text x="291.40" y="261.58" text-anchor="end" font-size="10">600</text>
<text x="291.40" y="235.34" text-anchor="end" font-size="10">700</text>
<text x="291.40" y="209.09" text-anchor="end" font-size="10">800</text>
<text x="291.40" y="182.85" text-anchor="end" font-size="10">900</text>
<path d="M313.66,284.98 L330.27,274.98 L347.28,259.58 L360.96,243.04 L400.25,225.14 L425.07,204.33" fill="none" stroke="#000000" stroke-width="0.7"/>
<rect x="311.11" y="282.43" width="5.1" height="5.10" rx="0.6" fill="#000000"/><path d="M310.11,284.98 h7.10" stroke="#000000" stroke-width="1.1"/>
<rect x="327.72" y="272.43" width="5.1" height="5.10" rx="0.6" fill="#000000"/><path d="M326.72,274.98 h7.10" stroke="#000000" stroke-width="1.1"/>
<rect x="344.73" y="257.03" width="5.1" height="5.10" rx="0.6" fill="#000000"/><path d="M343.73,259.58 h7.10" stroke="#000000" stroke-width="1.1"/>
<rect x="358.41" y="240.49" width="5.1" height="5.10" rx="0.6" fill="#000000"/><path d="M357.41,243.04 h7.10" stroke="#000000" stroke-width="1.1"/>
<rect x="397.70" y="222.59" width="5.1" height="5.10" rx="0.6" fill="#000000"/><path d="M396.70,225.14 h7.10" stroke="#000000" stroke-width="1.1"/>
<rect x="422.52" y="201.78" width="5.1" height="5.10" rx="0.6" fill="#000000"/><path d="M421.52,204.33 h7.10" stroke="#000000" stroke-width="1.1"/>
<text transform="translate(268.8,238.8) rotate(-90)" text-anchor="middle" font-size="12.6">Spacing (S) (μm)</text>
<text x="368" y="327" text-anchor="middle" font-size="13.5">λ</text>
<g>
<path d="M309.2,215 L313.2,215 C314,217 314.6,221.8 316,221.8 C317.4,221.8 317.9,219 318,216.5 L318,198.6 Q318,198 318.6,198 L324.1,198 Q324.7,198 324.7,198.6 L324.7,216.5 C324.8,219 325.3,221.8 326.6,221.8 C327.8,221.8 328.2,217 328.6,215 L348.4,215 C348.8,217 349.3,221.8 350.4,221.8 C351.6,221.8 351.9,219 352,216.5 L352,198.6 Q352,198 352.6,198 L358.1,198 Q358.7,198 358.7,198.6 L358.7,216.5 C358.8,219 359.3,221.8 360.6,221.8 C361.8,221.8 362.2,217 362.6,215 L367.5,215 L367.5,228.3 L309.2,228.3Z" fill="#e6f5b4" stroke="#77775f" stroke-width="0.45"/>
<line x1="320.8" y1="192.5" x2="320.8" y2="201" stroke="#444" stroke-width="0.4"/>
<line x1="355.3" y1="192.5" x2="355.3" y2="201" stroke="#444" stroke-width="0.4"/>
<line x1="321" y1="195.8" x2="355" y2="195.8" stroke="#222" stroke-width="0.5"/>
<path d="M321,195.8 L324,194.6 L324,197Z M355,195.8 L352,194.6 L352,197Z" fill="#222"/>
<text x="338" y="193" text-anchor="middle" font-size="10" font-style="italic">S</text>
</g>
<rect x="536.5" y="179.3" width="147.80" height="119.00" fill="none" stroke="#474747" stroke-width="1.0"/>
<line x1="543.89" y1="298.3" x2="543.89" y2="296.1" stroke="#474747" stroke-width="0.8"/>
<line x1="551.28" y1="298.3" x2="551.28" y2="297.0" stroke="#474747" stroke-width="0.8"/>
<line x1="558.67" y1="298.3" x2="558.67" y2="296.1" stroke="#474747" stroke-width="0.8"/>
<line x1="566.06" y1="298.3" x2="566.06" y2="297.0" stroke="#474747" stroke-width="0.8"/>
<line x1="573.45" y1="298.3" x2="573.45" y2="296.1" stroke="#474747" stroke-width="0.8"/>
<line x1="580.84" y1="298.3" x2="580.84" y2="297.0" stroke="#474747" stroke-width="0.8"/>
<line x1="588.23" y1="298.3" x2="588.23" y2="296.1" stroke="#474747" stroke-width="0.8"/>
<line x1="595.62" y1="298.3" x2="595.62" y2="297.0" stroke="#474747" stroke-width="0.8"/>
<line x1="603.01" y1="298.3" x2="603.01" y2="296.1" stroke="#474747" stroke-width="0.8"/>
<line x1="610.40" y1="298.3" x2="610.40" y2="297.0" stroke="#474747" stroke-width="0.8"/>
<line x1="617.79" y1="298.3" x2="617.79" y2="296.1" stroke="#474747" stroke-width="0.8"/>
<line x1="625.18" y1="298.3" x2="625.18" y2="297.0" stroke="#474747" stroke-width="0.8"/>
<line x1="632.57" y1="298.3" x2="632.57" y2="296.1" stroke="#474747" stroke-width="0.8"/>
<line x1="639.96" y1="298.3" x2="639.96" y2="297.0" stroke="#474747" stroke-width="0.8"/>
<line x1="647.35" y1="298.3" x2="647.35" y2="296.1" stroke="#474747" stroke-width="0.8"/>
<line x1="654.74" y1="298.3" x2="654.74" y2="297.0" stroke="#474747" stroke-width="0.8"/>
<line x1="662.13" y1="298.3" x2="662.13" y2="296.1" stroke="#474747" stroke-width="0.8"/>
<line x1="669.52" y1="298.3" x2="669.52" y2="297.0" stroke="#474747" stroke-width="0.8"/>
<line x1="676.91" y1="298.3" x2="676.91" y2="296.1" stroke="#474747" stroke-width="0.8"/>
<line x1="536.5" y1="285.08" x2="538.7" y2="285.08" stroke="#474747" stroke-width="0.8"/>
<line x1="536.5" y1="271.86" x2="537.8" y2="271.86" stroke="#474747" stroke-width="0.8"/>
<line x1="536.5" y1="258.63" x2="538.7" y2="258.63" stroke="#474747" stroke-width="0.8"/>
<line x1="536.5" y1="245.41" x2="537.8" y2="245.41" stroke="#474747" stroke-width="0.8"/>
<line x1="536.5" y1="232.19" x2="538.7" y2="232.19" stroke="#474747" stroke-width="0.8"/>
<line x1="536.5" y1="218.97" x2="537.8" y2="218.97" stroke="#474747" stroke-width="0.8"/>
<line x1="536.5" y1="205.74" x2="538.7" y2="205.74" stroke="#474747" stroke-width="0.8"/>
<line x1="536.5" y1="192.52" x2="537.8" y2="192.52" stroke="#474747" stroke-width="0.8"/>
<text x="543.89" y="309.10" text-anchor="middle" font-size="10">1</text>
<text x="558.67" y="309.10" text-anchor="middle" font-size="10">2</text>
<text x="573.45" y="309.10" text-anchor="middle" font-size="10">3</text>
<text x="588.23" y="309.10" text-anchor="middle" font-size="10">4</text>
<text x="603.01" y="309.10" text-anchor="middle" font-size="10">5</text>
<text x="617.79" y="309.10" text-anchor="middle" font-size="10">6</text>
<text x="632.57" y="309.10" text-anchor="middle" font-size="10">7</text>
<text x="647.35" y="309.10" text-anchor="middle" font-size="10">8</text>
<text x="662.13" y="309.10" text-anchor="middle" font-size="10">9</text>
<text x="676.91" y="309.10" text-anchor="middle" font-size="10">10</text>
<text x="534.00" y="288.53" text-anchor="end" font-size="10">500</text>
<text x="534.00" y="262.08" text-anchor="end" font-size="10">600</text>
<text x="534.00" y="235.64" text-anchor="end" font-size="10">700</text>
<text x="534.00" y="209.19" text-anchor="end" font-size="10">800</text>
<text x="534.00" y="182.75" text-anchor="end" font-size="10">900</text>
<path d="M543.89,204.00 L551.28,285.21 L558.67,205.29 L566.06,285.71 L573.45,207.20 L580.84,285.21 L588.23,207.86 L595.62,285.71 L603.01,207.86 L610.40,285.21 L617.79,208.49 L625.18,286.11 L632.57,208.20 L639.96,285.00 L647.35,209.00 L654.74,285.21 L662.13,208.20 L669.52,285.21 L676.91,207.20" fill="none" stroke="#000000" stroke-width="0.6"/>
<rect x="541.49" y="201.60" width="4.8" height="4.8" rx="0.7" fill="#000000"/><path d="M540.39,202.50 h7.00 M540.39,205.50 h7.00" stroke="#000000" stroke-width="0.9"/>
<rect x="548.88" y="282.81" width="4.8" height="4.8" rx="0.7" fill="#000000"/><path d="M547.78,283.71 h7.00 M547.78,286.71 h7.00" stroke="#000000" stroke-width="0.9"/>
<rect x="556.27" y="202.89" width="4.8" height="4.8" rx="0.7" fill="#000000"/><path d="M555.17,203.79 h7.00 M555.17,206.79 h7.00" stroke="#000000" stroke-width="0.9"/>
<rect x="563.66" y="283.31" width="4.8" height="4.8" rx="0.7" fill="#000000"/><path d="M562.56,284.21 h7.00 M562.56,287.21 h7.00" stroke="#000000" stroke-width="0.9"/>
<rect x="571.05" y="204.80" width="4.8" height="4.8" rx="0.7" fill="#000000"/><path d="M569.95,205.70 h7.00 M569.95,208.70 h7.00" stroke="#000000" stroke-width="0.9"/>
<rect x="578.44" y="282.81" width="4.8" height="4.8" rx="0.7" fill="#000000"/><path d="M577.34,283.71 h7.00 M577.34,286.71 h7.00" stroke="#000000" stroke-width="0.9"/>
<rect x="585.83" y="205.46" width="4.8" height="4.8" rx="0.7" fill="#000000"/><path d="M584.73,206.36 h7.00 M584.73,209.36 h7.00" stroke="#000000" stroke-width="0.9"/>
<rect x="593.22" y="283.31" width="4.8" height="4.8" rx="0.7" fill="#000000"/><path d="M592.12,284.21 h7.00 M592.12,287.21 h7.00" stroke="#000000" stroke-width="0.9"/>
<rect x="600.61" y="205.46" width="4.8" height="4.8" rx="0.7" fill="#000000"/><path d="M599.51,206.36 h7.00 M599.51,209.36 h7.00" stroke="#000000" stroke-width="0.9"/>
<rect x="608.00" y="282.81" width="4.8" height="4.8" rx="0.7" fill="#000000"/><path d="M606.90,283.71 h7.00 M606.90,286.71 h7.00" stroke="#000000" stroke-width="0.9"/>
<rect x="615.39" y="206.09" width="4.8" height="4.8" rx="0.7" fill="#000000"/><path d="M614.29,206.99 h7.00 M614.29,209.99 h7.00" stroke="#000000" stroke-width="0.9"/>
<rect x="622.78" y="283.71" width="4.8" height="4.8" rx="0.7" fill="#000000"/><path d="M621.68,284.61 h7.00 M621.68,287.61 h7.00" stroke="#000000" stroke-width="0.9"/>
<rect x="630.17" y="205.80" width="4.8" height="4.8" rx="0.7" fill="#000000"/><path d="M629.07,206.70 h7.00 M629.07,209.70 h7.00" stroke="#000000" stroke-width="0.9"/>
<rect x="637.56" y="282.60" width="4.8" height="4.8" rx="0.7" fill="#000000"/><path d="M636.46,283.50 h7.00 M636.46,286.50 h7.00" stroke="#000000" stroke-width="0.9"/>
<rect x="644.95" y="206.60" width="4.8" height="4.8" rx="0.7" fill="#000000"/><path d="M643.85,207.50 h7.00 M643.85,210.50 h7.00" stroke="#000000" stroke-width="0.9"/>
<rect x="652.34" y="282.81" width="4.8" height="4.8" rx="0.7" fill="#000000"/><path d="M651.24,283.71 h7.00 M651.24,286.71 h7.00" stroke="#000000" stroke-width="0.9"/>
<rect x="659.73" y="205.80" width="4.8" height="4.8" rx="0.7" fill="#000000"/><path d="M658.63,206.70 h7.00 M658.63,209.70 h7.00" stroke="#000000" stroke-width="0.9"/>
<rect x="667.12" y="282.81" width="4.8" height="4.8" rx="0.7" fill="#000000"/><path d="M666.02,283.71 h7.00 M666.02,286.71 h7.00" stroke="#000000" stroke-width="0.9"/>
<rect x="674.51" y="204.80" width="4.8" height="4.8" rx="0.7" fill="#000000"/><path d="M673.41,205.70 h7.00 M673.41,208.70 h7.00" stroke="#000000" stroke-width="0.9"/>
<text transform="translate(512.8,239.2) rotate(-90)" text-anchor="middle" font-size="12.6">Spacing (S) (μm)</text>
<text x="610.6" y="326" text-anchor="middle" font-size="12.6">Cycles</text>
</svg></body></html>
